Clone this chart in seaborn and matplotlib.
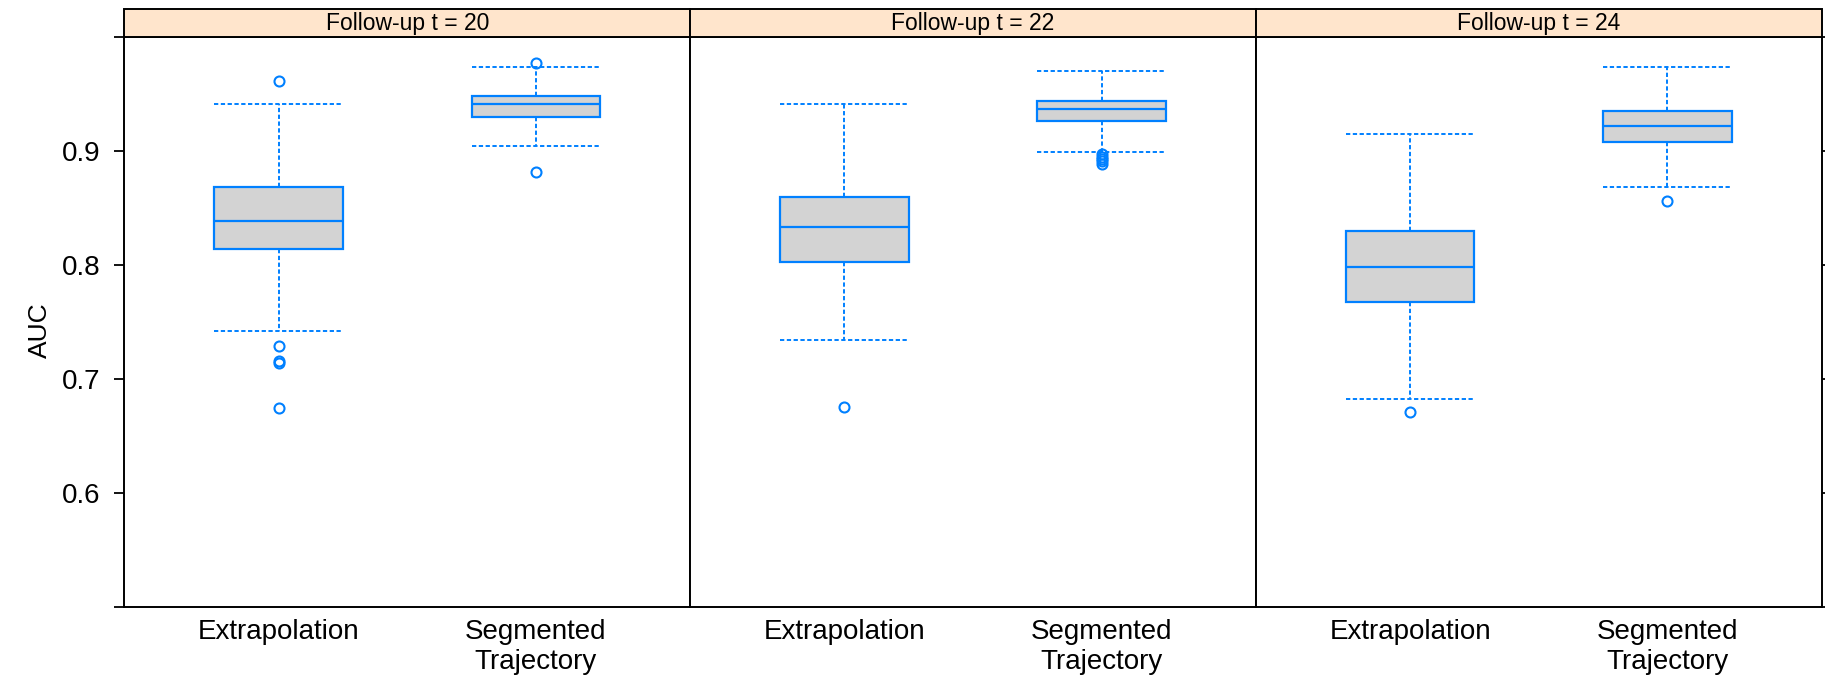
import numpy as np
import pandas as pd
import matplotlib
matplotlib.use("Agg")
import matplotlib.pyplot as plt
from matplotlib.patches import Rectangle
import seaborn as sns

# ---------------- data ----------------
panels = ["Follow-up t = 20", "Follow-up t = 22", "Follow-up t = 24"]
methods = ["Extrapolation", "Segmented\nTrajectory"]

# box statistics, order: (t=20 Ext, t=20 Seg, t=22 Ext, t=22 Seg, t=24 Ext, t=24 Seg)
whisker_low = [0.742, 0.904, 0.734, 0.8995, 0.683, 0.868]
quart_1 = [0.814, 0.930, 0.803, 0.926, 0.768, 0.908]
median = [0.839, 0.941, 0.833, 0.937, 0.798, 0.922]
quart_3 = [0.868, 0.948, 0.860, 0.944, 0.830, 0.935]
whisker_high = [0.941, 0.974, 0.941, 0.970, 0.915, 0.974]
outliers = [
    [0.961, 0.729, 0.716, 0.714, 0.675],
    [0.977, 0.882],
    [0.676],
    [0.897, 0.895, 0.893, 0.891, 0.889],
    [0.671],
    [0.856],
]

y_ticks = [0.5, 0.6, 0.7, 0.8, 0.9, 1.0]
y_tick_labels = ["", "0.6", "0.7", "0.8", "0.9", ""]

# ---------------- build a tidy table ----------------
rows = []
k = 0
for p in panels:
    for m in methods:
        rows.append(dict(panel=p, method=m, whislo=whisker_low[k], q1=quart_1[k],
                         med=median[k], q3=quart_3[k], whishi=whisker_high[k],
                         fliers=outliers[k]))
        k += 1
df = pd.DataFrame(rows)

BLUE = "#0080FF"
FILL = "#D3D3D3"
STRIP = "#FFE5CC"

sns.set_style("white")
plt.rcParams["font.family"] = ["Liberation Sans", "DejaVu Sans"]
plt.rcParams["text.color"] = "black"
plt.rcParams["xtick.color"] = "black"
plt.rcParams["ytick.color"] = "black"
plt.rcParams["axes.labelcolor"] = "black"


def draw_box(data, **kws):
    ax = plt.gca()
    stats = []
    for _, r in data.iterrows():
        stats.append(dict(med=r.med, q1=r.q1, q3=r.q3, whislo=r.whislo,
                          whishi=r.whishi, fliers=np.array(r.fliers), label=r.method))
    ax.bxp(stats, positions=list(range(len(stats))), widths=0.5, patch_artist=True,
           boxprops=dict(facecolor=FILL, edgecolor=BLUE, linewidth=1.6),
           medianprops=dict(color=BLUE, linewidth=1.6),
           whiskerprops=dict(color=BLUE, linewidth=1.4, linestyle=(0, (2.2, 1.3))),
           capprops=dict(color=BLUE, linewidth=1.4, linestyle=(0, (2.2, 1.3))),
           capwidths=0.5,
           flierprops=dict(marker="o", markerfacecolor="none", markeredgecolor=BLUE,
                           markersize=7.2, markeredgewidth=1.5))


g = sns.FacetGrid(df, col="panel", col_order=panels, sharey=True, sharex=True,
                  height=5, aspect=1.2)
g.map_dataframe(draw_box)

fig = g.figure
fig.set_size_inches(18.25, 6.79)
fig.subplots_adjust(left=0.0682, right=0.9981, bottom=0.1054, top=0.9457, wspace=0)

panel_h_px = 570.5
strip_frac = 27.6 / panel_h_px

for i, (ax, p) in enumerate(zip(g.axes.flat, panels)):
    ax.set_title("")
    ax.set_xlim(-0.6, 1.6)
    ax.set_ylim(0.5, 1.0)
    ax.set_xticks([0, 1])
    ax.set_xticklabels(methods, fontsize=20, color="black")
    ax.set_xlabel("")
    ax.set_ylabel("")
    ax.set_yticks(y_ticks)
    ax.set_yticklabels(y_tick_labels, fontsize=20, color="black")
    ax.tick_params(axis="x", length=0, pad=8)
    ax.tick_params(axis="y", direction="out", length=7.5, width=1.3, color="black",
                   left=(i == 0), right=(i == 2), labelleft=(i == 0),
                   labelright=False, pad=10)
    for s in ax.spines.values():
        s.set_visible(True)
        s.set_color("black")
        s.set_linewidth(1.4)
    ax.add_patch(Rectangle((0, 1), 1, strip_frac, transform=ax.transAxes,
                           facecolor=STRIP, edgecolor="black", linewidth=1.4,
                           clip_on=False, zorder=3))
    ax.text(0.5, 1 + strip_frac / 2, p, transform=ax.transAxes, ha="center",
            va="center", fontsize=16.5, color="black", zorder=4)

fig.text(40 / 1825, 1 - 330 / 679, "AUC", rotation=90, ha="center", va="center",
         fontsize=19, color="black")

fig.savefig("out.png", dpi=100)
